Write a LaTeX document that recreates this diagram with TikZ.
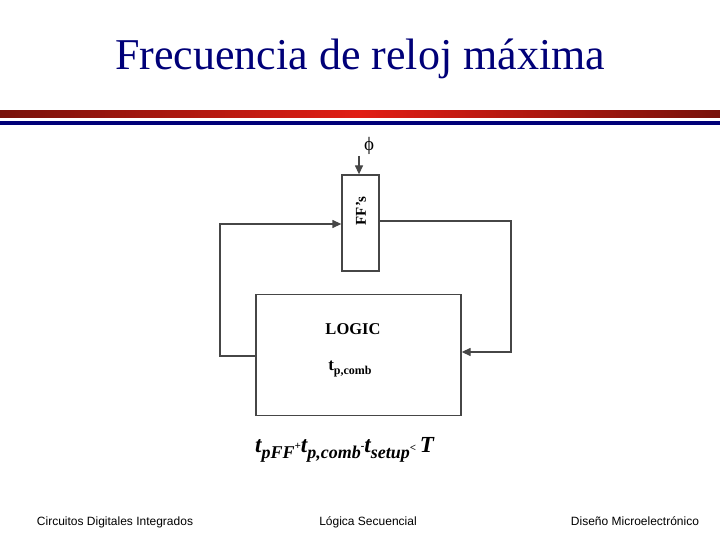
\documentclass[tikz,border=0pt]{standalone}
\usepackage{fontspec}
\setmainfont{Liberation Serif}
\setsansfont{Liberation Sans}
\usetikzlibrary{arrows.meta}
\definecolor{navy}{RGB}{0,0,120}
\definecolor{lnc}{RGB}{70,70,70}
\definecolor{redend}{RGB}{120,18,10}
\definecolor{redmid}{RGB}{225,30,20}
\begin{document}
\begin{tikzpicture}[x=1pt,y=-1pt,
  blk/.style={draw=lnc,line width=1.3pt},
  wire/.style={draw=lnc,line width=1.3pt},
  arr/.style={wire,-{Triangle[length=9pt,width=8pt]}},
  foot/.style={font=\sffamily\fontsize{12}{14}\selectfont,anchor=base}]
\useasboundingbox (0,0) rectangle (720,540);
\node[text=navy,font=\fontsize{44}{50}\selectfont,anchor=base] (title) at (360,70) {Frecuencia de reloj máxima};
\shade[left color=redend,right color=redend,middle color=redmid] (0,111) rectangle (720,118);
\fill[navy] (0,121) rectangle (720,125);
% FF box
\node[blk,minimum width=37pt,minimum height=96pt,inner sep=0pt] (ff) at (360.5,223) {};
\node[rotate=90,font=\bfseries\fontsize{15}{16}\selectfont] (fft) at (361,211) {FF’s};
\node[font=\fontsize{19}{19}\selectfont] (phi) at (369,146) {ϕ};
\coordinate (phin) at (359,156);
\draw[arr] (phin) -- (phin |- ff.north);
% LOGIC box
\node[blk,minimum width=205pt,minimum height=121pt,inner sep=0pt] (lg) at (358.5,355) {};
\node[font=\bfseries\fontsize{16.5}{18}\selectfont] (lgt) at (353,329) {LOGIC};
\node[font=\bfseries\fontsize{17}{18}\selectfont] (tpc) at (350,369) {t\raisebox{-4pt}{\fontsize{12}{12}\selectfont p,comb}};
% feedback wires
\coordinate (l1) at (220,356);
\coordinate (l2) at (220,224);
\draw[arr] (lg.west |- l1) -- (l1) -- (l2) -- (ff.west |- l2);
\coordinate (r1) at (511,221);
\coordinate (r2) at (511,352);
\draw[arr] (ff.east |- r1) -- (r1) -- (r2) -- (lg.east |- r2);
% formula
\node[font=\bfseries\itshape\fontsize{23}{24}\selectfont,anchor=west,inner sep=0pt] (eq) at (255,450)
 {t\raisebox{-6pt}{\fontsize{18}{18}\selectfont pFF}\raisebox{3pt}{\fontsize{11}{11}\selectfont +}t\raisebox{-6pt}{\fontsize{18}{18}\selectfont p,comb}\raisebox{3pt}{\fontsize{11}{11}\selectfont -}t\raisebox{-6pt}{\fontsize{18}{18}\selectfont setup}\raisebox{1pt}{\fontsize{11}{11}\selectfont\textless}\,T};
% footer
\node[foot] (f1) at (115,525) {Circuitos Digitales Integrados};
\node[foot] (f2) at (368,525) {Lógica Secuencial};
\node[foot] (f3) at (635,525) {Diseño Microelectrónico};
\end{tikzpicture}
\end{document}
